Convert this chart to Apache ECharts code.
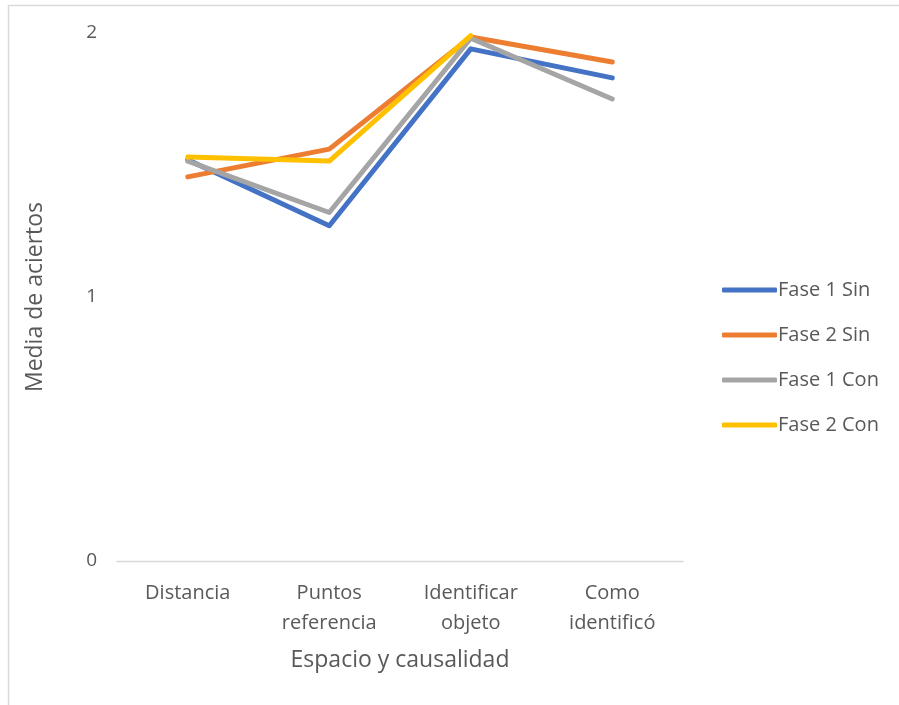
<!DOCTYPE html>
<html>
<head>
<meta charset="utf-8">
<script src="https://cdn.jsdelivr.net/npm/echarts@6/dist/echarts.min.js"></script>
<style>
  html, body { margin: 0; padding: 0; background: #fff; }
  #chart { width: 899px; height: 705px; }
</style>
</head>
<body>
<div id="chart"></div>
<script>
// Categories on the x axis
const categories = ['Distancia', 'Puntos\nreferencia', 'Identificar\nobjeto', 'Como\nidentificó'];

// Mean correct answers per group
const fase1Sin = [1.52, 1.27, 1.94, 1.83];
const fase2Sin = [1.455, 1.56, 1.985, 1.89];
const fase1Con = [1.515, 1.32, 1.98, 1.75];
const fase2Con = [1.53, 1.515, 1.99, null];

const seriesNames = ['Fase 1 Sin', 'Fase 2 Sin', 'Fase 1 Con', 'Fase 2 Con'];
const seriesData = [fase1Sin, fase2Sin, fase1Con, fase2Con];
const seriesColors = ['#4472C4', '#ED7D31', '#A5A5A5', '#FFC000'];

const yTicks = [0, 1, 2];

const fontFamily = '"Open Sans", "Noto Sans", sans-serif';

const chart = echarts.init(document.getElementById('chart'), null, { renderer: 'canvas' });

chart.setOption({
  animation: false,
  backgroundColor: '#ffffff',
  textStyle: { fontFamily: fontFamily },
  graphic: [{
    type: 'rect',
    shape: { x: 8.5, y: 5.5, width: 1200, height: 1200 },
    style: { fill: 'none', stroke: '#d9d9d9', lineWidth: 1.5 },
    silent: true
  }],
  grid: { left: 117, right: 216, top: 33, bottom: 144 },
  legend: {
    orient: 'vertical',
    left: 717,
    top: 273,
    icon: 'roundRect',
    itemWidth: 55,
    itemHeight: 5,
    itemGap: 21,
    textStyle: { fontFamily: fontFamily, fontSize: 20, color: '#595959', lineHeight: 24, padding: [0, 0, 0, -4] },
    data: seriesNames
  },
  xAxis: {
    type: 'category',
    data: categories,
    boundaryGap: true,
    axisTick: { show: false },
    axisLine: { lineStyle: { color: '#d9d9d9', width: 1.3 } },
    axisLabel: {
      color: '#595959', fontSize: 20, lineHeight: 30, margin: 17, interval: 0,
      fontFamily: fontFamily
    },
    name: 'Espacio y causalidad',
    nameLocation: 'middle',
    nameGap: 88,
    nameTextStyle: { color: '#595959', fontSize: 23, fontFamily: fontFamily }
  },
  yAxis: {
    type: 'value',
    min: yTicks[0],
    max: yTicks[yTicks.length - 1],
    interval: 1,
    axisLine: { show: false },
    axisTick: { show: false },
    splitLine: { show: false },
    axisLabel: {
      color: '#595959', fontSize: 19, margin: 20, fontFamily: fontFamily,
      formatter: function (v) { return yTicks.indexOf(v) >= 0 ? String(v) : ''; }
    },
    name: 'Media de aciertos',
    nameLocation: 'middle',
    nameGap: 70,
    nameTextStyle: { color: '#595959', fontSize: 23, fontFamily: fontFamily }
  },
  series: seriesNames.map(function (name, i) {
    return {
      name: name,
      type: 'line',
      data: seriesData[i],
      showSymbol: false,
      symbol: 'none',
      color: seriesColors[i],
      lineStyle: { width: 5, color: seriesColors[i], cap: 'round', join: 'round' },
      itemStyle: { color: seriesColors[i] },
      z: 2 + i
    };
  })
});
</script>
</body>
</html>
